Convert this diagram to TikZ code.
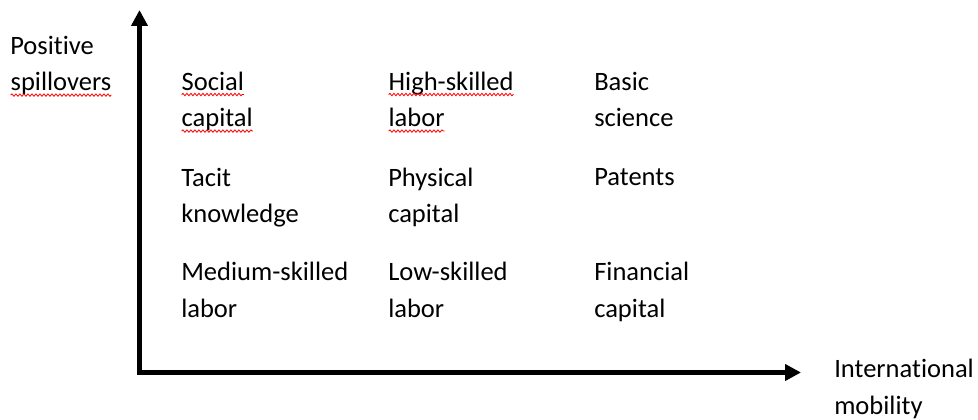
\documentclass[tikz,border=0pt]{standalone}
\usepackage{fontspec}
\setmainfont{Carlito}[Ligatures=NoCommon]
\usetikzlibrary{arrows.meta,decorations.pathmorphing}

\newcommand{\lbl}{\fontsize{19.9pt}{27.4pt}\selectfont}
% red wavy underline, as the spell checker leaves it
\newcommand{\spelling}[1]{\tikz[baseline=(w.base)]{\node[inner sep=0pt, outer sep=0pt] (w) {#1};
  \draw[red, line width=0.6pt, decorate, decoration={snake, amplitude=0.9pt, segment length=3pt}]
    ([yshift=-3.3pt]w.base west) -- ([yshift=-3.3pt]w.base east);}}

\begin{document}
\begin{tikzpicture}[x=0.75pt, y=-0.75pt,
    item/.style={anchor=base west, inner sep=0pt, align=left, font=\lbl},
    axis/.style={line width=3.9pt, line join=miter, {Triangle[length=12pt, width=12pt]}-{Triangle[length=12pt, width=12pt]}}
]
\useasboundingbox (0,0) rectangle (978,420);

% axes
\coordinate (o) at (139.5,372.5);
\coordinate (ytip) at (139.5,10);
\coordinate (xtip) at (801,372.5);
\draw[axis] (ytip) -- (o) -- (xtip);

% axis labels (placed by the baseline of their last line)
\node[item] (ylab) at (10,90.7) {Positive\\\spelling{spillovers}};
\node[item] (xlab) at (834,414) {International\\mobility};

% first row
\node[item] (soc) at (181,126.7) {\spelling{Social}\\\spelling{capital}};
\node[item] (hsl) at (388,126.7) {\spelling{High-skilled}\\\spelling{labor}};
\node[item] (bsc) at (594,126.7) {Basic\\science};

% second row
\node[item] (tac) at (181,222.7) {Tacit\\knowledge};
\node[item] (phy) at (388,222.7) {Physical\\capital};
\node[item] (pat) at (594,186) {Patents};

% third row
\node[item] (msl) at (181,317.3) {Medium-skilled\\labor};
\node[item] (lsl) at (388,317.3) {Low-skilled\\labor};
\node[item] (fin) at (594,317.3) {Financial\\capital};
\end{tikzpicture}
\end{document}
